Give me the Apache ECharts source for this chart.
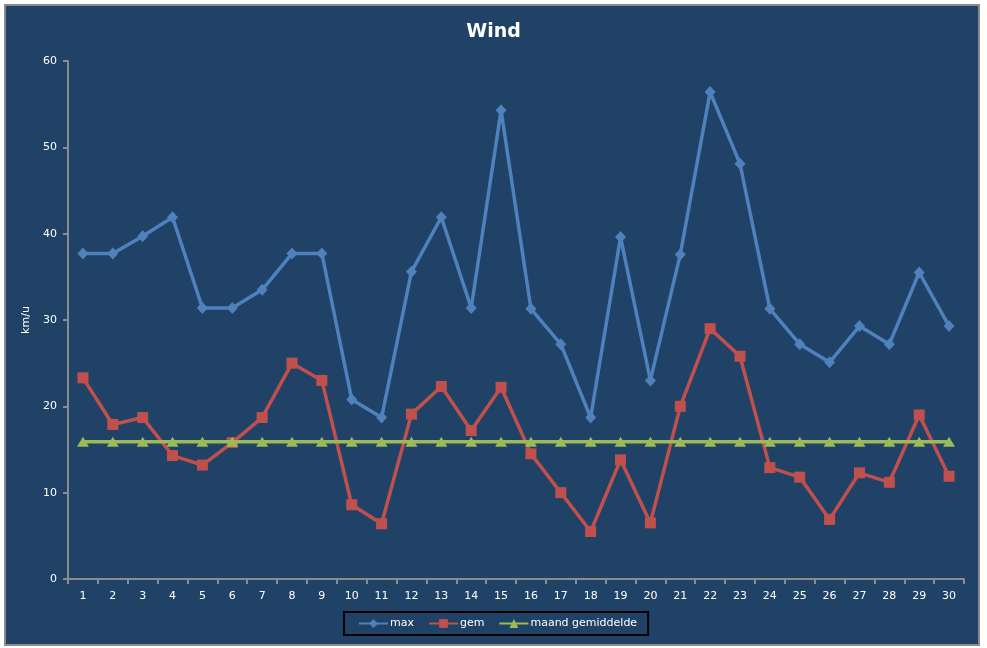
<!DOCTYPE html>
<html>
<head>
<meta charset="utf-8">
<script src="https://cdn.jsdelivr.net/npm/echarts@6/dist/echarts.min.js"></script>
<style>
html, body { margin: 0; padding: 0; background: #ffffff; }
#main { width: 987px; height: 648px; }
</style>
</head>
<body>
<div id="main"></div>
<script>
//data
var days = ['1','2','3','4','5','6','7','8','9','10','11','12','13','14','15',
	'16','17','18','19','20','21','22','23','24','25','26','27','28','29','30'];
var maxWind = [37.7, 37.7, 39.7, 41.9, 31.4, 31.4, 33.5, 37.7, 37.7, 20.8,
	18.7, 35.6, 41.9, 31.4, 54.3, 31.3, 27.2, 18.7, 39.6, 23.0,
	37.6, 56.4, 48.1, 31.3, 27.2, 25.1, 29.3, 27.2, 35.5, 29.3];
var gemWind = [23.3, 17.9, 18.7, 14.3, 13.2, 15.8, 18.7, 25.0, 23.0, 8.6,
	6.4, 19.1, 22.3, 17.2, 22.2, 14.5, 10.0, 5.5, 13.8, 6.5,
	20.0, 29.0, 25.8, 12.9, 11.8, 6.9, 12.3, 11.2, 19.0, 11.9];
var maandGem = [15.9, 15.9, 15.9, 15.9, 15.9, 15.9, 15.9, 15.9, 15.9, 15.9,
	15.9, 15.9, 15.9, 15.9, 15.9, 15.9, 15.9, 15.9, 15.9, 15.9,
	15.9, 15.9, 15.9, 15.9, 15.9, 15.9, 15.9, 15.9, 15.9, 15.9];
var yTicks = [0, 10, 20, 30, 40, 50, 60];

var bg = '#1f4266';
var axisGrey = '#8c8c8c';
var font = 'DejaVu Sans';

var chart = echarts.init(document.getElementById('main'));
chart.setOption({
	animation: false,
	textStyle: { fontFamily: font },
	graphic: [{
		type: 'rect',
		z: -10,
		silent: true,
		shape: { x: 5, y: 5, width: 974, height: 640 },
		style: { fill: bg, stroke: '#8c8c8c', lineWidth: 2 }
	}],
	title: {
		text: 'Wind',
		left: 'center',
		top: 18,
		textStyle: { color: '#ffffff', fontSize: 19, fontWeight: 'bold', fontFamily: font }
	},
	legend: {
		data: ['max', 'gem', 'maand gemiddelde'],
		left: 344,
		top: 612,
		padding: [6, 11, 6, 14],
		itemGap: 14,
		itemWidth: 29,
		itemHeight: 11,
		borderColor: '#000000',
		borderWidth: 2,
		textStyle: { color: '#ffffff', fontSize: 11, fontFamily: font, padding: [0, 0, 0, -3] }
	},
	grid: {
		left: 68,
		top: 61,
		right: 23,
		bottom: 69,
		containLabel: false
	},
	xAxis: {
		type: 'category',
		data: days,
		boundaryGap: true,
		axisLine: { lineStyle: { color: axisGrey, width: 2 } },
		axisTick: { show: true, length: 5, lineStyle: { color: axisGrey, width: 2 } },
		axisLabel: { color: '#ffffff', fontSize: 11, margin: 12, interval: 0 },
		splitLine: { show: false }
	},
	yAxis: {
		type: 'value',
		name: 'km/u',
		nameLocation: 'middle',
		nameRotate: 90,
		nameGap: 36,
		nameTextStyle: { color: '#ffffff', fontSize: 11 },
		min: yTicks[0],
		max: yTicks[yTicks.length - 1],
		interval: 10,
		axisLine: { show: true, lineStyle: { color: axisGrey, width: 2 } },
		axisTick: { show: true, length: 5, lineStyle: { color: axisGrey, width: 2 } },
		axisLabel: { color: '#ffffff', fontSize: 11, margin: 11 },
		splitLine: { show: false }
	},
	series: [{
			name: 'max',
			type: 'line',
			data: maxWind,
			symbol: 'diamond',
			symbolSize: [11, 12],
			lineStyle: { color: '#4f81bd', width: 3.5 },
			itemStyle: { color: '#4f81bd' },
			z: 3
		},
		{
			name: 'gem',
			type: 'line',
			data: gemWind,
			symbol: 'rect',
			symbolSize: 11,
			lineStyle: { color: '#c0504d', width: 3.5 },
			itemStyle: { color: '#c0504d' },
			z: 2
		},
		{
			name: 'maand gemiddelde',
			type: 'line',
			data: maandGem,
			symbol: 'triangle',
			symbolSize: [12, 10],
			lineStyle: { color: '#9bbb59', width: 3.5 },
			itemStyle: { color: '#9bbb59' },
			z: 4
		}
	]
});
</script>
</body>
</html>
